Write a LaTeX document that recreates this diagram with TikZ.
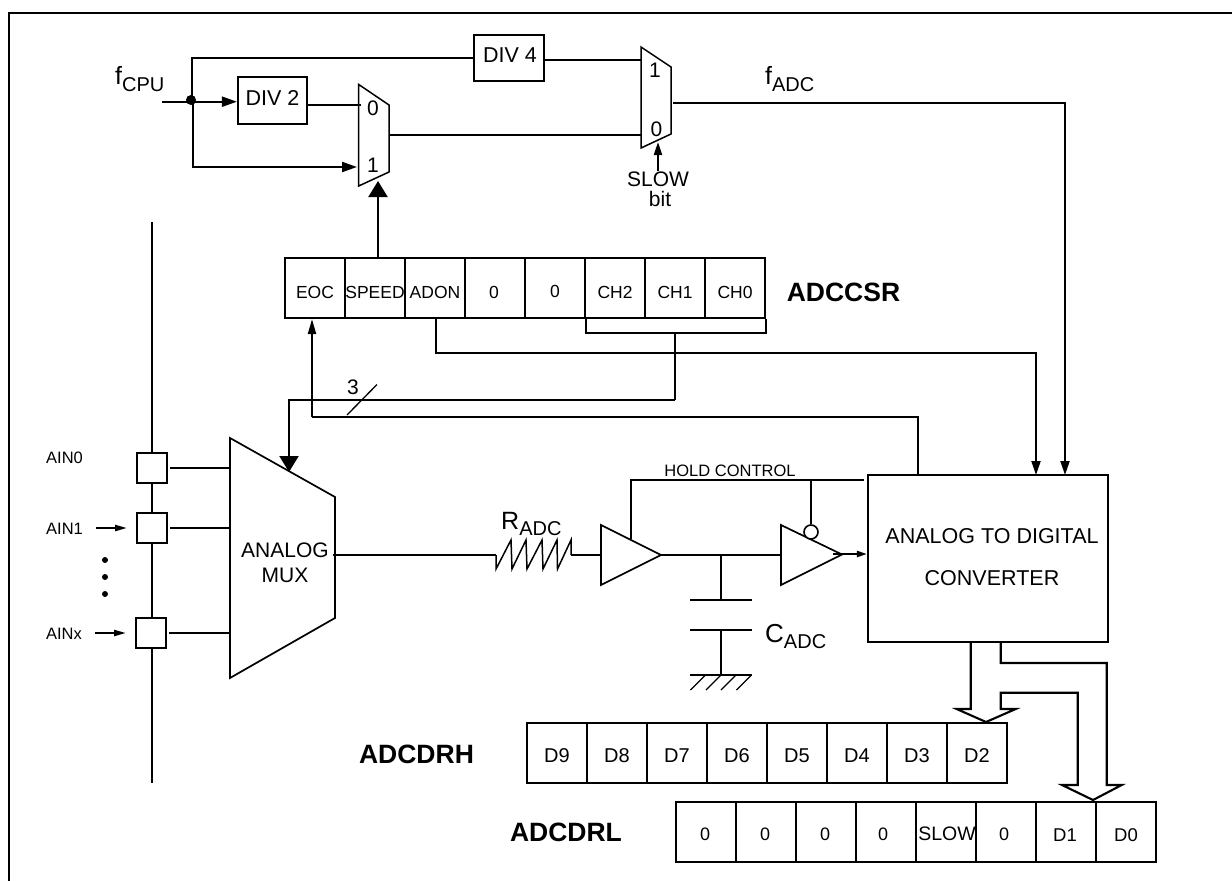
\documentclass[tikz,border=0pt]{standalone}
\usepackage{fontspec}
\setmainfont{Liberation Sans}
\usetikzlibrary{arrows.meta}
\newcommand\fs[1]{\fontsize{#1}{#1}\selectfont}
% text placed at dx from the node centre, with its baseline dy below the centre
\newcommand\tx[3]{\makebox[0pt][c]{\hspace*{\dimexpr2\dimexpr#1pt\relax\relax}\raisebox{\dimexpr-#2pt\relax}[0pt][0pt]{#3}}}
\newcommand\sbs[2]{#1\raisebox{-7pt}{\fs{20}#2}}
\tikzset{
  wire/.style={line width=2.1pt,line cap=butt,line join=miter},
  thin wire/.style={line width=1.3pt},
  shape line/.style={line width=1.5pt,line join=miter,fill=white},
  box/.style={draw,line width=2.1pt,inner sep=0pt,fill=white},
  cellbox/.style={box,minimum width=60pt,minimum height=60pt},
  label text/.style={inner sep=0pt,anchor=base},
  sub text/.style={inner sep=0pt,anchor=base west,font=\fs{25}},
  reg name/.style={inner sep=0pt,anchor=base,font=\fs{26.5}\bfseries},
  small tip/.style={-{Triangle[length=15pt,width=10pt]}},
  adc tip/.style={-{Triangle[length=14pt,width=9pt]}},
  big tip/.style={-{Triangle[length=16pt,width=19pt]}},
}
\begin{document}
\begin{tikzpicture}[x=1pt,y=-1pt]
\useasboundingbox (0,0) rectangle (1232,881);
% frame
\draw[wire] (9,881) -- (9,13) -- (1232,13);

% clock dividers
\node[box,minimum width=69pt,minimum height=47pt,font=\fs{21.5}] (div2) at (272.5,100.5) {\tx{0}{4.5}{DIV 2}};
\node[box,minimum width=70pt,minimum height=46pt,font=\fs{21.5}] (div4) at (509,58) {\tx{1}{4}{DIV 4}};

% muxes
\coordinate (mxa0) at (358.7,84.5); \coordinate (mxa1) at (389,105); \coordinate (mxa2) at (389,172); \coordinate (mxa3) at (358.7,186);
\draw[shape line] (mxa0) -- (mxa1) -- (mxa2) -- (mxa3) -- cycle;
\coordinate (mxb0) at (641,47); \coordinate (mxb1) at (671,67); \coordinate (mxb2) at (671,134); \coordinate (mxb3) at (641,148);
\draw[shape line] (mxb0) -- (mxb1) -- (mxb2) -- (mxb3) -- cycle;
\node[label text,font=\fs{21}] (m0a) at (373,115) {0};
\node[label text,font=\fs{21}] (m1a) at (373,172.5) {1};
\node[label text,font=\fs{21}] (m1b) at (655,77.5) {1};
\node[label text,font=\fs{21}] (m0b) at (656.5,136.5) {0};

% clock wiring
\coordinate (fin) at (162,101.7);
\coordinate (junc) at (191,100);
\fill (junc) circle (5pt);
\draw[wire] (fin) -- (junc |- fin);
\draw[wire,small tip] (junc |- fin) -- (div2.west |- fin);
\draw[wire] (junc) ++(0.7,0) |- (div4.west);
\coordinate (mxaIn0) at (361,105);
\draw[wire] (div2.east |- mxaIn0) -- (mxaIn0);
\coordinate (mxaIn1) at (357,167);
\draw[wire,small tip] (193,100) |- (mxaIn1);
\coordinate (mxaOut) at (389,135);
\coordinate (mxbIn0) at (641,135);
\draw[wire] (mxaOut) -- (mxbIn0);
\coordinate (mxbIn1) at (641,60);
\draw[wire] (div4.east |- mxbIn1) -- (mxbIn1);
\coordinate (slowT) at (658,142);
\coordinate (slowB) at (658,171);
\draw[wire,-{Triangle[length=13pt,width=8pt]}] (slowB) -- (slowT);

% labels of the clock section
\node[sub text] (fcpu) at (115,84.5) {\sbs{f}{CPU}};
\node[sub text] (fadc) at (765,84) {\sbs{f}{ADC}};
\node[label text,font=\fs{21}] (slowtxt) at (658,186.5) {SLOW};
\node[label text,font=\fs{21}] (bittxt) at (660,206.5) {bit};

% ADCCSR register
\foreach \t/\dx/\dy [count=\i] in {EOC/0/10,SPEED/0/10,ADON/0/10,0/-1/10,0/0/9,CH2/0/10,CH1/0/10,CH0/0/10}
  \node[cellbox,font=\fs{17.5}] (csr\i) at (255+60*\i,288) {\tx{\dx}{\dy}{\t}};
\node[reg name] (csrname) at (843.5,301) {ADCCSR};

% analog inputs
\coordinate (busT) at (152,222);
\coordinate (busB) at (152,783);
\draw[wire] (busT) -- (busB);
\node[box,minimum size=30pt] (s0) at (152,468) {};
\node[box,minimum size=30pt] (s1) at (152,528) {};
\node[box,minimum size=30pt] (s2) at (151,633) {};
\node[label text,font=\fs{16.5}] (ain0) at (64.5,463) {AIN0};
\node[label text,font=\fs{16.5}] (ain1) at (64.5,534) {AIN1};
\node[label text,font=\fs{16.5}] (ainx) at (64,639) {AINx};
\coordinate (a1s) at (96,528); \coordinate (a1e) at (127,528);
\coordinate (axs) at (95,633); \coordinate (axe) at (126,633);
\draw[wire,-{Triangle[length=12pt,width=6pt]}] (a1s) -- (a1e);
\draw[wire,-{Triangle[length=12pt,width=6pt]}] (axs) -- (axe);
\foreach \y in {560,577,594} \fill (105,\y) circle (3pt);

% analog mux
\coordinate (am0) at (230,438); \coordinate (am1) at (335,497); \coordinate (am2) at (335,618); \coordinate (am3) at (230,678);
\draw[wire,fill=white,line width=1.7pt] (am0) -- (am1) -- (am2) -- (am3) -- cycle;
\node[label text,font=\fs{21}] (amuxa) at (285,557.5) {ANALOG};
\node[label text,font=\fs{21}] (amuxb) at (285,582.5) {MUX};
\draw[wire,shorten <=2pt] (s0.east) -- (s0.east -| am0);
\draw[wire,shorten <=2pt] (s1.east) -- (s1.east -| am0);
\draw[wire,shorten <=2pt] (s2.east) -- (s2.east -| am0);

% ADC box
\node[box,minimum width=240pt,minimum height=167pt,font=\fs{21.5}] (adc) at (988,558.5)
  {\tx{4}{-15.5}{ANALOG TO DIGITAL}\tx{4}{26.5}{CONVERTER}};

% control wiring
\coordinate (muxSel) at (378,181);
\draw[wire,big tip] ([xshift=3pt]csr2.north) -- (muxSel);
\coordinate (brk) at (675,333);
\draw[wire] ([xshift=2pt]csr6.south west) |- (brk);
\draw[wire] (brk) -| (csr8.south east);
\coordinate (chC) at (675,400);
\draw[thin wire] (brk) -- (chC);
\coordinate (muxTipC) at (289,472);
\draw[wire,big tip] (chC) -| (muxTipC);
\coordinate (adcA) at (1036,475);
\coordinate (adonC) at (436,353);
\draw[wire,adc tip] (adonC |- csr3.south) -- (adonC) -| (adcA);
\coordinate (adcB) at (1065,475);
\coordinate (adcO) at (673,103);
\draw[wire,adc tip] (adcO) -| (adcB);
\coordinate (adcE) at (918,475);
\coordinate (eocC) at (312,417);
\draw[wire] (adcE) |- (eocC);
\draw[wire,-{Triangle[length=15pt,width=8pt]}] (eocC) -- (csr1.south -| eocC);
\coordinate (slA) at (347,415); \coordinate (slB) at (377,384.5);
\draw[thin wire] (slA) -- (slB);
\node[label text,font=\fs{21}] (three) at (353,394) {3};

% sample and hold
\coordinate (mxOut) at (333,555); \coordinate (rs) at (496,555); \coordinate (re) at (571,555);
\draw[wire] (mxOut) -- (rs);
\draw[line width=1.5pt,line join=miter] (rs) -- (496,569) -- (511,540) -- (512,569) -- (526,540) -- (527,569) -- (542,540) -- (543,569) -- (557,540) -- (557.5,569) -- (571,540) -- (re);
\coordinate (t1a) at (601,525); \coordinate (t1b) at (661,555); \coordinate (t1c) at (601,585);
\coordinate (t2a) at (781,525); \coordinate (t2b) at (842,554.5); \coordinate (t2c) at (781,585);
\draw[wire] (re) -- (t1a |- re);
\draw[wire] (t1b) -- (t2a |- t1b);
\draw[wire,line width=1.7pt] (t1a) -- (t1b) -- (t1c) -- cycle;
\draw[wire,line width=1.7pt] (t2a) -- (t2b) -- (t2c) -- cycle;
\coordinate (holdR) at (864,480);
\coordinate (holdL) at (631,539);
\draw[wire] (holdL) |- (holdR);
\node[draw,circle,line width=1.6pt,fill=white,minimum size=14pt,inner sep=0pt] (bub) at (811,532) {};
\draw[wire] (bub.north) -- (bub.north |- holdR);
\coordinate (bufOut) at (833,554);
\draw[wire,-{Triangle[length=10pt,width=6pt]}] (bufOut) -- (adc.west |- bufOut);
\node[label text,font=\fs{16.5}] (holdtxt) at (730,476) {HOLD CONTROL};

% capacitor
\coordinate (cT) at (721,600); \coordinate (cB) at (721,630); \coordinate (gnd) at (721,675);
\draw[wire] (721,555) -- (cT);
\draw[wire] (690,600) -- (752,600);
\draw[wire] (690,630) -- (752,630);
\draw[wire] (cB) -- (gnd);
\draw[wire] (690,675) -- (752,675);
\foreach \x in {690.5,706,721,736.5} \draw[thin wire] (\x,690) -- ++(15,-15);
\node[sub text,font=\fs{26}] (cadc) at (765,642) {C\raisebox{-6pt}{\fs{20}ADC}};
\node[sub text] (radc) at (501,529) {R\raisebox{-6pt}{\fs{20}ADC}};

% ADCDRH register
\foreach \t [count=\i] in {D9,D8,D7,D6,D5,D4,D3,D2}
  \node[cellbox,font=\fs{20}] (drh\i) at (497+60*\i,753) {\tx{0}{9}{\t}};
\node[reg name] (drhname) at (416.5,763) {ADCDRH};

% ADCDRL register
\foreach \t/\dx/\dy/\f [count=\i] in {0/-1/8/18,0/-1/8/18,0/-1/8/18,0/-3/8/18,SLOW/1/8/19.5,0/-2/8/18,D1/-1/9.5/18.5,D0/0/9.5/18.5}
  \node[cellbox,font=\fs{\f}] (drl\i) at (646+60*\i,832) {\tx{\dx}{\dy}{\t}};
\node[reg name] (drlname) at (566,841) {ADCDRL};

% data bus outline from the converter to the two data registers
\coordinate (busA) at (970.7,643);
\coordinate (busZ) at (1000.7,643);
\draw[wire] (busA) -- (970.7,709) -- (956.7,709) -- (986,722) -- (1015.7,709) -- (1000.7,709) -- (1000.7,692.7) -- (1077.7,692.7) -- (1077.7,785) -- (1062,785) -- (1093,800) -- (1121.7,785) -- (1106.7,785) -- (1106.7,663) -- (1000.7,663) -- (busZ);
\end{tikzpicture}
\end{document}
